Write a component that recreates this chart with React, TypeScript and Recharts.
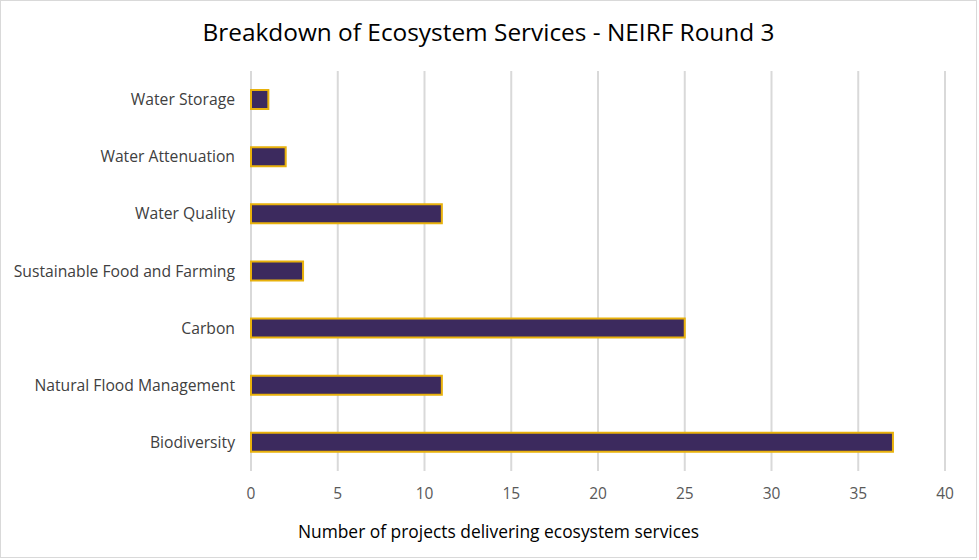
import React from "react";
import { BarChart, Bar, XAxis, YAxis, CartesianGrid } from "recharts";

// ─── Data ─────────────────────────────────────────────────────────────────────

const SERVICES = [
  "Water Storage",
  "Water Attenuation",
  "Water Quality",
  "Sustainable Food and Farming",
  "Carbon",
  "Natural Flood Management",
  "Biodiversity",
];

const PROJECT_COUNTS = [1, 2, 11, 3, 25, 11, 37];

const X_TICKS = [0, 5, 10, 15, 20, 25, 30, 35, 40];

const data = SERVICES.map((name, i) => ({ name, projects: PROJECT_COUNTS[i] }));

const FONT = "'Open Sans', 'Noto Sans', sans-serif";

// ─── Main component ───────────────────────────────────────────────────────────

export default function App() {
  return (
    <div
      style={{
        position: "absolute",
        left: 0,
        top: 0,
        width: 975,
        height: 556,
        border: "1px solid #d9d9d9",
        background: "#fff",
        fontFamily: FONT,
      }}
    >
      <div
        style={{
          position: "absolute",
          top: 14,
          left: 0,
          width: 975,
          textAlign: "center",
          fontSize: 24.4,
          color: "#000",
        }}
      >
        Breakdown of Ecosystem Services - NEIRF Round 3
      </div>

      <BarChart
        width={975}
        height={556}
        data={data}
        layout="vertical"
        margin={{ top: 70, right: 31, bottom: 56, left: 0 }}
        barSize={19}
      >
        <CartesianGrid horizontal={false} stroke="#d9d9d9" strokeWidth={2} />
        <XAxis
          type="number"
          domain={[0, 40]}
          ticks={X_TICKS}
          height={30}
          axisLine={false}
          tickLine={false}
          tickSize={0}
          tickMargin={17}
          tick={{ fontFamily: FONT, fontSize: 15.5, fill: "#595959" }}
        />
        <YAxis
          type="category"
          dataKey="name"
          width={250}
          axisLine={false}
          tickLine={false}
          tickSize={0}
          tickMargin={16}
          tick={{ fontFamily: FONT, fontSize: 15.7, fill: "#404040" }}
        />
        <Bar
          dataKey="projects"
          fill="#3c2a5e"
          stroke="#e8b10c"
          strokeWidth={2}
          isAnimationActive={false}
        />
      </BarChart>

      <div
        style={{
          position: "absolute",
          top: 518,
          left: 0,
          width: 995,
          textAlign: "center",
          fontSize: 17.4,
          color: "#000",
        }}
      >
        Number of projects delivering ecosystem services
      </div>
    </div>
  );
}
